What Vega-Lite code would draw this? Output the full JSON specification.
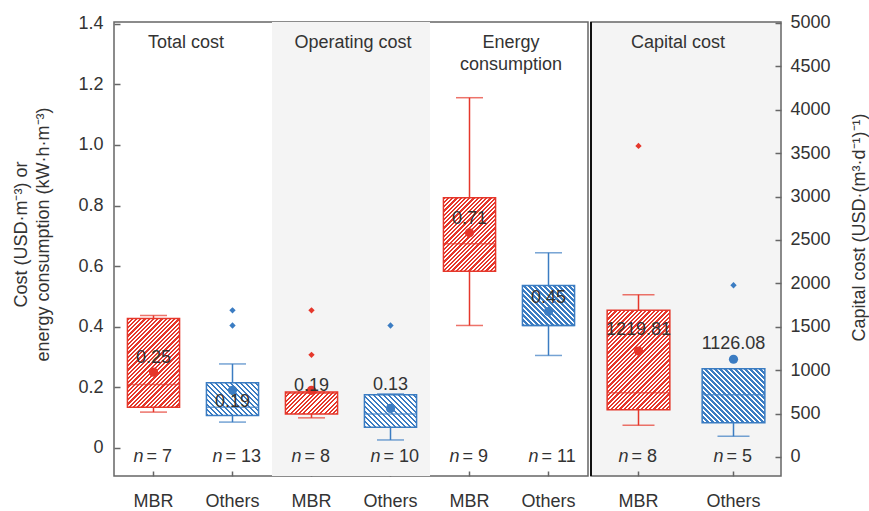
{
  "$schema": "https://vega.github.io/schema/vega-lite/v6.json",
  "padding": {"left": 11, "top": 13, "right": 0, "bottom": 0},
  "params": [
    {
      "name": "hatch",
      "value": [
        {"offset": 0, "color": "#fff0"}, {"offset": 0.013, "color": "#fff0"}, {"offset": 0.013, "color": "#fff"}, {"offset": 0.025, "color": "#fff"},
        {"offset": 0.025, "color": "#fff0"}, {"offset": 0.038, "color": "#fff0"}, {"offset": 0.038, "color": "#fff"}, {"offset": 0.05, "color": "#fff"},
        {"offset": 0.05, "color": "#fff0"}, {"offset": 0.063, "color": "#fff0"}, {"offset": 0.063, "color": "#fff"}, {"offset": 0.075, "color": "#fff"},
        {"offset": 0.075, "color": "#fff0"}, {"offset": 0.088, "color": "#fff0"}, {"offset": 0.088, "color": "#fff"}, {"offset": 0.1, "color": "#fff"},
        {"offset": 0.1, "color": "#fff0"}, {"offset": 0.113, "color": "#fff0"}, {"offset": 0.113, "color": "#fff"}, {"offset": 0.125, "color": "#fff"},
        {"offset": 0.125, "color": "#fff0"}, {"offset": 0.138, "color": "#fff0"}, {"offset": 0.138, "color": "#fff"}, {"offset": 0.15, "color": "#fff"},
        {"offset": 0.15, "color": "#fff0"}, {"offset": 0.163, "color": "#fff0"}, {"offset": 0.163, "color": "#fff"}, {"offset": 0.175, "color": "#fff"},
        {"offset": 0.175, "color": "#fff0"}, {"offset": 0.188, "color": "#fff0"}, {"offset": 0.188, "color": "#fff"}, {"offset": 0.2, "color": "#fff"},
        {"offset": 0.2, "color": "#fff0"}, {"offset": 0.213, "color": "#fff0"}, {"offset": 0.213, "color": "#fff"}, {"offset": 0.225, "color": "#fff"},
        {"offset": 0.225, "color": "#fff0"}, {"offset": 0.238, "color": "#fff0"}, {"offset": 0.238, "color": "#fff"}, {"offset": 0.25, "color": "#fff"},
        {"offset": 0.25, "color": "#fff0"}, {"offset": 0.263, "color": "#fff0"}, {"offset": 0.263, "color": "#fff"}, {"offset": 0.275, "color": "#fff"},
        {"offset": 0.275, "color": "#fff0"}, {"offset": 0.288, "color": "#fff0"}, {"offset": 0.288, "color": "#fff"}, {"offset": 0.3, "color": "#fff"},
        {"offset": 0.3, "color": "#fff0"}, {"offset": 0.313, "color": "#fff0"}, {"offset": 0.313, "color": "#fff"}, {"offset": 0.325, "color": "#fff"},
        {"offset": 0.325, "color": "#fff0"}, {"offset": 0.338, "color": "#fff0"}, {"offset": 0.338, "color": "#fff"}, {"offset": 0.35, "color": "#fff"},
        {"offset": 0.35, "color": "#fff0"}, {"offset": 0.363, "color": "#fff0"}, {"offset": 0.363, "color": "#fff"}, {"offset": 0.375, "color": "#fff"},
        {"offset": 0.375, "color": "#fff0"}, {"offset": 0.388, "color": "#fff0"}, {"offset": 0.388, "color": "#fff"}, {"offset": 0.4, "color": "#fff"},
        {"offset": 0.4, "color": "#fff0"}, {"offset": 0.413, "color": "#fff0"}, {"offset": 0.413, "color": "#fff"}, {"offset": 0.425, "color": "#fff"},
        {"offset": 0.425, "color": "#fff0"}, {"offset": 0.438, "color": "#fff0"}, {"offset": 0.438, "color": "#fff"}, {"offset": 0.45, "color": "#fff"},
        {"offset": 0.45, "color": "#fff0"}, {"offset": 0.463, "color": "#fff0"}, {"offset": 0.463, "color": "#fff"}, {"offset": 0.475, "color": "#fff"},
        {"offset": 0.475, "color": "#fff0"}, {"offset": 0.488, "color": "#fff0"}, {"offset": 0.488, "color": "#fff"}, {"offset": 0.5, "color": "#fff"},
        {"offset": 0.5, "color": "#fff0"}, {"offset": 0.513, "color": "#fff0"}, {"offset": 0.513, "color": "#fff"}, {"offset": 0.525, "color": "#fff"},
        {"offset": 0.525, "color": "#fff0"}, {"offset": 0.538, "color": "#fff0"}, {"offset": 0.538, "color": "#fff"}, {"offset": 0.55, "color": "#fff"},
        {"offset": 0.55, "color": "#fff0"}, {"offset": 0.563, "color": "#fff0"}, {"offset": 0.563, "color": "#fff"}, {"offset": 0.575, "color": "#fff"},
        {"offset": 0.575, "color": "#fff0"}, {"offset": 0.588, "color": "#fff0"}, {"offset": 0.588, "color": "#fff"}, {"offset": 0.6, "color": "#fff"},
        {"offset": 0.6, "color": "#fff0"}, {"offset": 0.613, "color": "#fff0"}, {"offset": 0.613, "color": "#fff"}, {"offset": 0.625, "color": "#fff"},
        {"offset": 0.625, "color": "#fff0"}, {"offset": 0.638, "color": "#fff0"}, {"offset": 0.638, "color": "#fff"}, {"offset": 0.65, "color": "#fff"},
        {"offset": 0.65, "color": "#fff0"}, {"offset": 0.663, "color": "#fff0"}, {"offset": 0.663, "color": "#fff"}, {"offset": 0.675, "color": "#fff"},
        {"offset": 0.675, "color": "#fff0"}, {"offset": 0.688, "color": "#fff0"}, {"offset": 0.688, "color": "#fff"}, {"offset": 0.7, "color": "#fff"},
        {"offset": 0.7, "color": "#fff0"}, {"offset": 0.713, "color": "#fff0"}, {"offset": 0.713, "color": "#fff"}, {"offset": 0.725, "color": "#fff"},
        {"offset": 0.725, "color": "#fff0"}, {"offset": 0.738, "color": "#fff0"}, {"offset": 0.738, "color": "#fff"}, {"offset": 0.75, "color": "#fff"},
        {"offset": 0.75, "color": "#fff0"}, {"offset": 0.763, "color": "#fff0"}, {"offset": 0.763, "color": "#fff"}, {"offset": 0.775, "color": "#fff"},
        {"offset": 0.775, "color": "#fff0"}, {"offset": 0.788, "color": "#fff0"}, {"offset": 0.788, "color": "#fff"}, {"offset": 0.8, "color": "#fff"},
        {"offset": 0.8, "color": "#fff0"}, {"offset": 0.813, "color": "#fff0"}, {"offset": 0.813, "color": "#fff"}, {"offset": 0.825, "color": "#fff"},
        {"offset": 0.825, "color": "#fff0"}, {"offset": 0.838, "color": "#fff0"}, {"offset": 0.838, "color": "#fff"}, {"offset": 0.85, "color": "#fff"},
        {"offset": 0.85, "color": "#fff0"}, {"offset": 0.863, "color": "#fff0"}, {"offset": 0.863, "color": "#fff"}, {"offset": 0.875, "color": "#fff"},
        {"offset": 0.875, "color": "#fff0"}, {"offset": 0.888, "color": "#fff0"}, {"offset": 0.888, "color": "#fff"}, {"offset": 0.9, "color": "#fff"},
        {"offset": 0.9, "color": "#fff0"}, {"offset": 0.913, "color": "#fff0"}, {"offset": 0.913, "color": "#fff"}, {"offset": 0.925, "color": "#fff"},
        {"offset": 0.925, "color": "#fff0"}, {"offset": 0.938, "color": "#fff0"}, {"offset": 0.938, "color": "#fff"}, {"offset": 0.95, "color": "#fff"},
        {"offset": 0.95, "color": "#fff0"}, {"offset": 0.963, "color": "#fff0"}, {"offset": 0.963, "color": "#fff"}, {"offset": 0.975, "color": "#fff"},
        {"offset": 0.975, "color": "#fff0"}, {"offset": 0.988, "color": "#fff0"}, {"offset": 0.988, "color": "#fff"}, {"offset": 1, "color": "#fff"}
      ]
    }
  ],
  "datasets": {
    "stats": [
      {"key": "Total cost|MBR", "group": "Total cost", "method": "MBR", "lo": 0.118, "q1": 0.134, "median": 0.209, "q3": 0.427, "hi": 0.437, "mean": 0.25, "n": 7},
      {"key": "Total cost|Others", "group": "Total cost", "method": "Others", "lo": 0.085, "q1": 0.107, "median": 0.134, "q3": 0.215, "hi": 0.277, "mean": 0.19, "n": 13},
      {"key": "Operating cost|MBR", "group": "Operating cost", "method": "MBR", "lo": 0.099, "q1": 0.112, "median": 0.18, "q3": 0.184, "hi": 0.184, "mean": 0.19, "n": 8},
      {"key": "Operating cost|Others", "group": "Operating cost", "method": "Others", "lo": 0.026, "q1": 0.068, "median": 0.112, "q3": 0.175, "hi": 0.178, "mean": 0.13, "n": 10},
      {"key": "Energy consumption|MBR", "group": "Energy consumption", "method": "MBR", "lo": 0.404, "q1": 0.583, "median": 0.674, "q3": 0.826, "hi": 1.156, "mean": 0.71, "n": 9},
      {"key": "Energy consumption|Others", "group": "Energy consumption", "method": "Others", "lo": 0.305, "q1": 0.404, "median": 0.404, "q3": 0.536, "hi": 0.644, "mean": 0.45, "n": 11},
      {"key": "Capital cost|MBR", "group": "Capital cost", "method": "MBR", "lo": 365, "q1": 545, "median": 741, "q3": 1690, "hi": 1870, "mean": 1219.81, "n": 8},
      {"key": "Capital cost|Others", "group": "Capital cost", "method": "Others", "lo": 238, "q1": 395, "median": 718, "q3": 1017, "hi": 1017, "mean": 1126.08, "n": 5}
    ],
    "outliers": [
      {"key": "Total cost|Others", "group": "Total cost", "method": "Others", "value": 0.454},
      {"key": "Total cost|Others", "group": "Total cost", "method": "Others", "value": 0.404},
      {"key": "Operating cost|MBR", "group": "Operating cost", "method": "MBR", "value": 0.454},
      {"key": "Operating cost|MBR", "group": "Operating cost", "method": "MBR", "value": 0.307},
      {"key": "Operating cost|Others", "group": "Operating cost", "method": "Others", "value": 0.404},
      {"key": "Capital cost|MBR", "group": "Capital cost", "method": "MBR", "value": 3583},
      {"key": "Capital cost|Others", "group": "Capital cost", "method": "Others", "value": 1978}
    ],
    "titles": [
      {"key": "Total cost|MBR", "group": "Total cost", "label": "Total cost"},
      {"key": "Operating cost|MBR", "group": "Operating cost", "label": "Operating cost"},
      {"key": "Energy consumption|MBR", "group": "Energy consumption", "label": "Energy\nconsumption"},
      {"key": "Capital cost|MBR", "group": "Capital cost", "label": "Capital cost"}
    ]
  },
  "config": {
    "font": "Liberation Sans",
    "view": {"stroke": "#666666", "strokeWidth": 1.5},
    "concat": {"spacing": 0},
    "text": {"fontSize": 18, "color": "#333333"}
  },
  "hconcat": [
    {
      "width": 474,
      "height": 454,
      "encoding": {
        "x": {
          "field": "key",
          "type": "nominal",
          "sort": null,
          "scale": {
            "type": "band",
            "domain": ["Total cost|MBR", "Total cost|Others", "Operating cost|MBR", "Operating cost|Others", "Energy consumption|MBR", "Energy consumption|Others"],
            "paddingInner": 0,
            "paddingOuter": 0
          },
          "axis": {
            "orient": "bottom",
            "title": null,
            "labelExpr": "split(datum.value, '|')[1]",
            "labelAngle": 0,
            "domain": false,
            "grid": false,
            "tickSize": -5,
            "tickColor": "#666666",
            "tickWidth": 1.5,
            "labelFontSize": 18,
            "labelColor": "#333333",
            "labelPadding": 21
          }
        }
      },
      "layer": [
        {
          "data": {"name": "stats"},
          "transform": [{"filter": "datum.group === 'Operating cost'"}],
          "mark": {"type": "bar", "width": {"band": 1}, "fill": "#f4f4f4"},
          "encoding": {
            "y": {
              "datum": 1.406,
              "type": "quantitative",
              "scale": {"domain": [-0.093, 1.406], "nice": false, "zero": false},
              "axis": {
                "orient": "left",
                "values": [0, 0.2, 0.4, 0.6, 0.8, 1, 1.2, 1.4],
                "labelExpr": "datum.value === 0 ? '0' : format(datum.value, '.1f')",
                "domain": false,
                "grid": false,
                "tickSize": -6,
                "tickColor": "#666666",
                "tickWidth": 1.5,
                "labelFontSize": 18,
                "labelColor": "#333333",
                "labelPadding": 17,
                "title": ["Cost (USD·m⁻³) or", "energy consumption (kW·h·m⁻³)"],
                "titleFontSize": 18,
                "titleFontWeight": "normal",
                "titleColor": "#333333",
                "titleAngle": -90,
                "titleAlign": "center",
                "titleBaseline": "middle",
                "titleLineHeight": 22,
                "titleX": -93,
                "titleY": 212
              }
            },
            "y2": {"datum": -0.093}
          }
        },
        {
          "data": {"name": "stats"},
          "transform": [{"filter": "datum.group !== 'Capital cost'"}],
          "mark": {"type": "rule", "strokeWidth": 1.5},
          "encoding": {
            "y": {"field": "lo", "type": "quantitative"},
            "y2": {"field": "hi"},
            "color": {"field": "method", "type": "nominal", "scale": {"domain": ["MBR", "Others"], "range": ["#e5372b", "#3b7cc2"]}, "legend": null}
          }
        },
        {
          "data": {"name": "stats"},
          "transform": [{"filter": "datum.group !== 'Capital cost'"}],
          "mark": {"type": "tick", "size": 27, "thickness": 1.5},
          "encoding": {
            "y": {"field": "lo", "type": "quantitative"},
            "color": {"field": "method", "type": "nominal", "legend": null}
          }
        },
        {
          "data": {"name": "stats"},
          "transform": [{"filter": "datum.group !== 'Capital cost'"}],
          "mark": {"type": "tick", "size": 27, "thickness": 1.5},
          "encoding": {
            "y": {"field": "hi", "type": "quantitative"},
            "color": {"field": "method", "type": "nominal", "legend": null}
          }
        },
        {
          "data": {"name": "stats"},
          "transform": [{"filter": "datum.group !== 'Capital cost'"}],
          "mark": {"type": "bar", "width": {"band": 0.66}},
          "encoding": {
            "y": {"field": "q1", "type": "quantitative"},
            "y2": {"field": "q3"},
            "color": {"field": "method", "type": "nominal", "legend": null}
          }
        },
        {
          "data": {"name": "stats"},
          "transform": [{"filter": "datum.group !== 'Capital cost'"}],
          "mark": {
            "type": "bar",
            "width": {"band": 0.66},
            "strokeWidth": 1.5,
            "fill": {"expr": "datum.method === 'MBR' ? {gradient: 'linear', x1: 0, y1: 0, x2: 170 * 52.14 / (2718.6 + pow((datum.q3 - datum.q1) * 302.8, 2)), y2: 170 * (datum.q3 - datum.q1) * 302.8 / (2718.6 + pow((datum.q3 - datum.q1) * 302.8, 2)), stops: hatch} : {gradient: 'linear', x1: 0, y1: 1, x2: 200 * 52.14 / (2718.6 + pow((datum.q3 - datum.q1) * 302.8, 2)), y2: 1 - 200 * (datum.q3 - datum.q1) * 302.8 / (2718.6 + pow((datum.q3 - datum.q1) * 302.8, 2)), stops: hatch}"}
          },
          "encoding": {
            "y": {"field": "q1", "type": "quantitative"},
            "y2": {"field": "q3"},
            "stroke": {"field": "method", "type": "nominal", "scale": {"domain": ["MBR", "Others"], "range": ["#e5372b", "#3b7cc2"]}, "legend": null}
          }
        },
        {
          "data": {"name": "stats"},
          "transform": [{"filter": "datum.group !== 'Capital cost'"}],
          "mark": {"type": "tick", "size": 52, "thickness": 1.5},
          "encoding": {
            "y": {"field": "median", "type": "quantitative"},
            "color": {"field": "method", "type": "nominal", "legend": null}
          }
        },
        {
          "data": {"name": "stats"},
          "transform": [{"filter": "datum.group !== 'Capital cost'"}],
          "mark": {"type": "circle", "size": 85, "opacity": 1},
          "encoding": {
            "y": {"field": "mean", "type": "quantitative"},
            "color": {"field": "method", "type": "nominal", "legend": null}
          }
        },
        {
          "data": {"name": "outliers"},
          "transform": [{"filter": "datum.group !== 'Capital cost'"}],
          "mark": {"type": "point", "shape": "diamond", "filled": true, "size": 40, "opacity": 1},
          "encoding": {
            "y": {"field": "value", "type": "quantitative"},
            "color": {"field": "method", "type": "nominal", "legend": null}
          }
        },
        {
          "data": {"name": "stats"},
          "transform": [{"filter": {"field": "key", "oneOf": ["Total cost|MBR", "Energy consumption|MBR", "Energy consumption|Others"]}}],
          "mark": {"type": "text", "dy": -14, "baseline": "middle"},
          "encoding": {
            "y": {"field": "mean", "type": "quantitative"},
            "text": {"field": "mean", "type": "quantitative", "format": ".2f"}
          }
        },
        {
          "data": {"name": "stats"},
          "transform": [{"filter": {"field": "key", "oneOf": ["Operating cost|Others"]}}],
          "mark": {"type": "text", "dy": -23, "baseline": "middle"},
          "encoding": {
            "y": {"field": "mean", "type": "quantitative"},
            "text": {"field": "mean", "type": "quantitative", "format": ".2f"}
          }
        },
        {
          "data": {"name": "stats"},
          "transform": [{"filter": {"field": "key", "oneOf": ["Operating cost|MBR"]}}],
          "mark": {"type": "text", "dy": -4, "baseline": "middle"},
          "encoding": {
            "y": {"field": "mean", "type": "quantitative"},
            "text": {"field": "mean", "type": "quantitative", "format": ".2f"}
          }
        },
        {
          "data": {"name": "stats"},
          "transform": [{"filter": {"field": "key", "oneOf": ["Total cost|Others"]}}],
          "mark": {"type": "text", "dy": 12, "baseline": "middle"},
          "encoding": {
            "y": {"field": "mean", "type": "quantitative"},
            "text": {"field": "mean", "type": "quantitative", "format": ".2f"}
          }
        },
        {
          "data": {"name": "stats"},
          "transform": [{"filter": "datum.group !== 'Capital cost'"}],
          "mark": {"type": "text", "text": "n", "fontStyle": "italic", "align": "right", "dx": -10, "baseline": "middle"},
          "encoding": {"y": {"datum": -0.031, "type": "quantitative"}}
        },
        {
          "data": {"name": "stats"},
          "transform": [{"filter": "datum.group !== 'Capital cost'"}],
          "mark": {"type": "text", "text": {"expr": "'= ' + datum.n"}, "align": "left", "dx": -7, "baseline": "middle"},
          "encoding": {"y": {"datum": -0.031, "type": "quantitative"}}
        },
        {
          "data": {"name": "titles"},
          "transform": [{"filter": "datum.group === 'Total cost'"}],
          "mark": {"type": "text", "baseline": "top", "align": "center", "dx": -7},
          "encoding": {
            "x": {"field": "key", "type": "nominal", "bandPosition": 1},
            "y": {"datum": 1.3666, "type": "quantitative"},
            "text": {"field": "label", "type": "nominal"}
          }
        },
        {
          "data": {"name": "titles"},
          "transform": [{"filter": "datum.group === 'Operating cost' || datum.group === 'Energy consumption'"}],
          "mark": {"type": "text", "baseline": "top", "align": "center", "lineBreak": "\n", "lineHeight": 22, "dx": 2},
          "encoding": {
            "x": {"field": "key", "type": "nominal", "bandPosition": 1},
            "y": {"datum": 1.3666, "type": "quantitative"},
            "text": {"field": "label", "type": "nominal"}
          }
        }
      ]
    },
    {
      "width": 190,
      "height": 454,
      "view": {"fill": "#f4f4f4", "stroke": "#666666", "strokeWidth": 1.5},
      "encoding": {
        "x": {
          "field": "key",
          "type": "nominal",
          "sort": null,
          "scale": {
            "type": "band",
            "domain": ["Capital cost|MBR", "Capital cost|Others"],
            "paddingInner": 0,
            "paddingOuter": 0
          },
          "axis": {
            "orient": "bottom",
            "title": null,
            "labelExpr": "split(datum.value, '|')[1]",
            "labelAngle": 0,
            "domain": false,
            "grid": false,
            "tickSize": -5,
            "tickColor": "#666666",
            "tickWidth": 1.5,
            "labelFontSize": 18,
            "labelColor": "#333333",
            "labelPadding": 21
          }
        }
      },
      "layer": [
        {
          "data": {"name": "stats"},
          "transform": [{"filter": "datum.group === 'Capital cost'"}],
          "mark": {"type": "rule", "strokeWidth": 1.5},
          "encoding": {
            "y": {
              "field": "lo",
              "type": "quantitative",
              "scale": {"domain": [-219, 5011], "nice": false, "zero": false},
              "axis": {
                "orient": "right",
                "values": [0, 500, 1000, 1500, 2000, 2500, 3000, 3500, 4000, 4500, 5000],
                "format": "d",
                "domain": false,
                "grid": false,
                "tickSize": -6,
                "tickColor": "#666666",
                "tickWidth": 1.5,
                "labelFontSize": 18,
                "labelColor": "#333333",
                "labelPadding": 15,
                "title": "Capital cost (USD·(m³·d⁻¹)⁻¹)",
                "titleFontSize": 18,
                "titleFontWeight": "normal",
                "titleColor": "#333333",
                "titleAngle": -90,
                "titleAlign": "center",
                "titleBaseline": "middle",
                "titleX": 78,
                "titleY": 205
              }
            },
            "y2": {"field": "hi"},
            "color": {"field": "method", "type": "nominal", "scale": {"domain": ["MBR", "Others"], "range": ["#e5372b", "#3b7cc2"]}, "legend": null}
          }
        },
        {
          "data": {"name": "stats"},
          "transform": [{"filter": "datum.group === 'Capital cost'"}],
          "mark": {"type": "tick", "size": 32, "thickness": 1.5},
          "encoding": {
            "y": {"field": "lo", "type": "quantitative"},
            "color": {"field": "method", "type": "nominal", "legend": null}
          }
        },
        {
          "data": {"name": "stats"},
          "transform": [{"filter": "datum.group === 'Capital cost'"}],
          "mark": {"type": "tick", "size": 32, "thickness": 1.5},
          "encoding": {
            "y": {"field": "hi", "type": "quantitative"},
            "color": {"field": "method", "type": "nominal", "legend": null}
          }
        },
        {
          "data": {"name": "stats"},
          "transform": [{"filter": "datum.group === 'Capital cost'"}],
          "mark": {"type": "bar", "width": {"band": 0.66}},
          "encoding": {
            "y": {"field": "q1", "type": "quantitative"},
            "y2": {"field": "q3"},
            "color": {"field": "method", "type": "nominal", "legend": null}
          }
        },
        {
          "data": {"name": "stats"},
          "transform": [{"filter": "datum.group === 'Capital cost'"}],
          "mark": {
            "type": "bar",
            "width": {"band": 0.66},
            "strokeWidth": 1.5,
            "fill": {"expr": "datum.method === 'MBR' ? {gradient: 'linear', x1: 0, y1: 0, x2: 170 * 62.7 / (3931.3 + pow((datum.q3 - datum.q1) * 0.0868, 2)), y2: 170 * (datum.q3 - datum.q1) * 0.0868 / (3931.3 + pow((datum.q3 - datum.q1) * 0.0868, 2)), stops: hatch} : {gradient: 'linear', x1: 0, y1: 1, x2: 200 * 62.7 / (3931.3 + pow((datum.q3 - datum.q1) * 0.0868, 2)), y2: 1 - 200 * (datum.q3 - datum.q1) * 0.0868 / (3931.3 + pow((datum.q3 - datum.q1) * 0.0868, 2)), stops: hatch}"}
          },
          "encoding": {
            "y": {"field": "q1", "type": "quantitative"},
            "y2": {"field": "q3"},
            "stroke": {"field": "method", "type": "nominal", "scale": {"domain": ["MBR", "Others"], "range": ["#e5372b", "#3b7cc2"]}, "legend": null}
          }
        },
        {
          "data": {"name": "stats"},
          "transform": [{"filter": "datum.group === 'Capital cost'"}],
          "mark": {"type": "tick", "size": 62.7, "thickness": 1.5},
          "encoding": {
            "y": {"field": "median", "type": "quantitative"},
            "color": {"field": "method", "type": "nominal", "legend": null}
          }
        },
        {
          "data": {"name": "stats"},
          "transform": [{"filter": "datum.group === 'Capital cost'"}],
          "mark": {"type": "circle", "size": 85, "opacity": 1},
          "encoding": {
            "y": {"field": "mean", "type": "quantitative"},
            "color": {"field": "method", "type": "nominal", "legend": null}
          }
        },
        {
          "data": {"name": "outliers"},
          "transform": [{"filter": "datum.group === 'Capital cost'"}],
          "mark": {"type": "point", "shape": "diamond", "filled": true, "size": 40, "opacity": 1},
          "encoding": {
            "y": {"field": "value", "type": "quantitative"},
            "color": {"field": "method", "type": "nominal", "legend": null}
          }
        },
        {
          "data": {"name": "stats"},
          "transform": [{"filter": {"field": "key", "oneOf": ["Capital cost|Others"]}}],
          "mark": {"type": "text", "dy": -15, "baseline": "middle"},
          "encoding": {
            "y": {"field": "mean", "type": "quantitative"},
            "text": {"field": "mean", "type": "quantitative", "format": ".2f"}
          }
        },
        {
          "data": {"name": "stats"},
          "transform": [{"filter": {"field": "key", "oneOf": ["Capital cost|MBR"]}}],
          "mark": {"type": "text", "dy": -21, "baseline": "middle"},
          "encoding": {
            "y": {"field": "mean", "type": "quantitative"},
            "text": {"field": "mean", "type": "quantitative", "format": ".2f"}
          }
        },
        {
          "data": {"name": "stats"},
          "transform": [{"filter": "datum.group === 'Capital cost'"}],
          "mark": {"type": "text", "text": "n", "fontStyle": "italic", "align": "right", "dx": -10, "baseline": "middle"},
          "encoding": {"y": {"datum": 0, "type": "quantitative"}}
        },
        {
          "data": {"name": "stats"},
          "transform": [{"filter": "datum.group === 'Capital cost'"}],
          "mark": {"type": "text", "text": {"expr": "'= ' + datum.n"}, "align": "left", "dx": -7, "baseline": "middle"},
          "encoding": {"y": {"datum": 0, "type": "quantitative"}}
        },
        {
          "data": {"name": "titles"},
          "transform": [{"filter": "datum.group === 'Capital cost'"}],
          "mark": {"type": "text", "baseline": "top", "align": "center", "dx": -8},
          "encoding": {
            "x": {"field": "key", "type": "nominal", "bandPosition": 1},
            "y": {"datum": 4873, "type": "quantitative"},
            "text": {"field": "label", "type": "nominal"}
          }
        },
        {
          "data": {"name": "titles"},
          "transform": [{"filter": "datum.group === 'Capital cost'"}],
          "mark": {"type": "rule", "strokeWidth": 2, "color": "#111111"},
          "encoding": {
            "x": {"field": "key", "type": "nominal", "bandPosition": 0},
            "y": {"datum": 5011, "type": "quantitative"},
            "y2": {"datum": -219}
          }
        }
      ]
    }
  ]
}
